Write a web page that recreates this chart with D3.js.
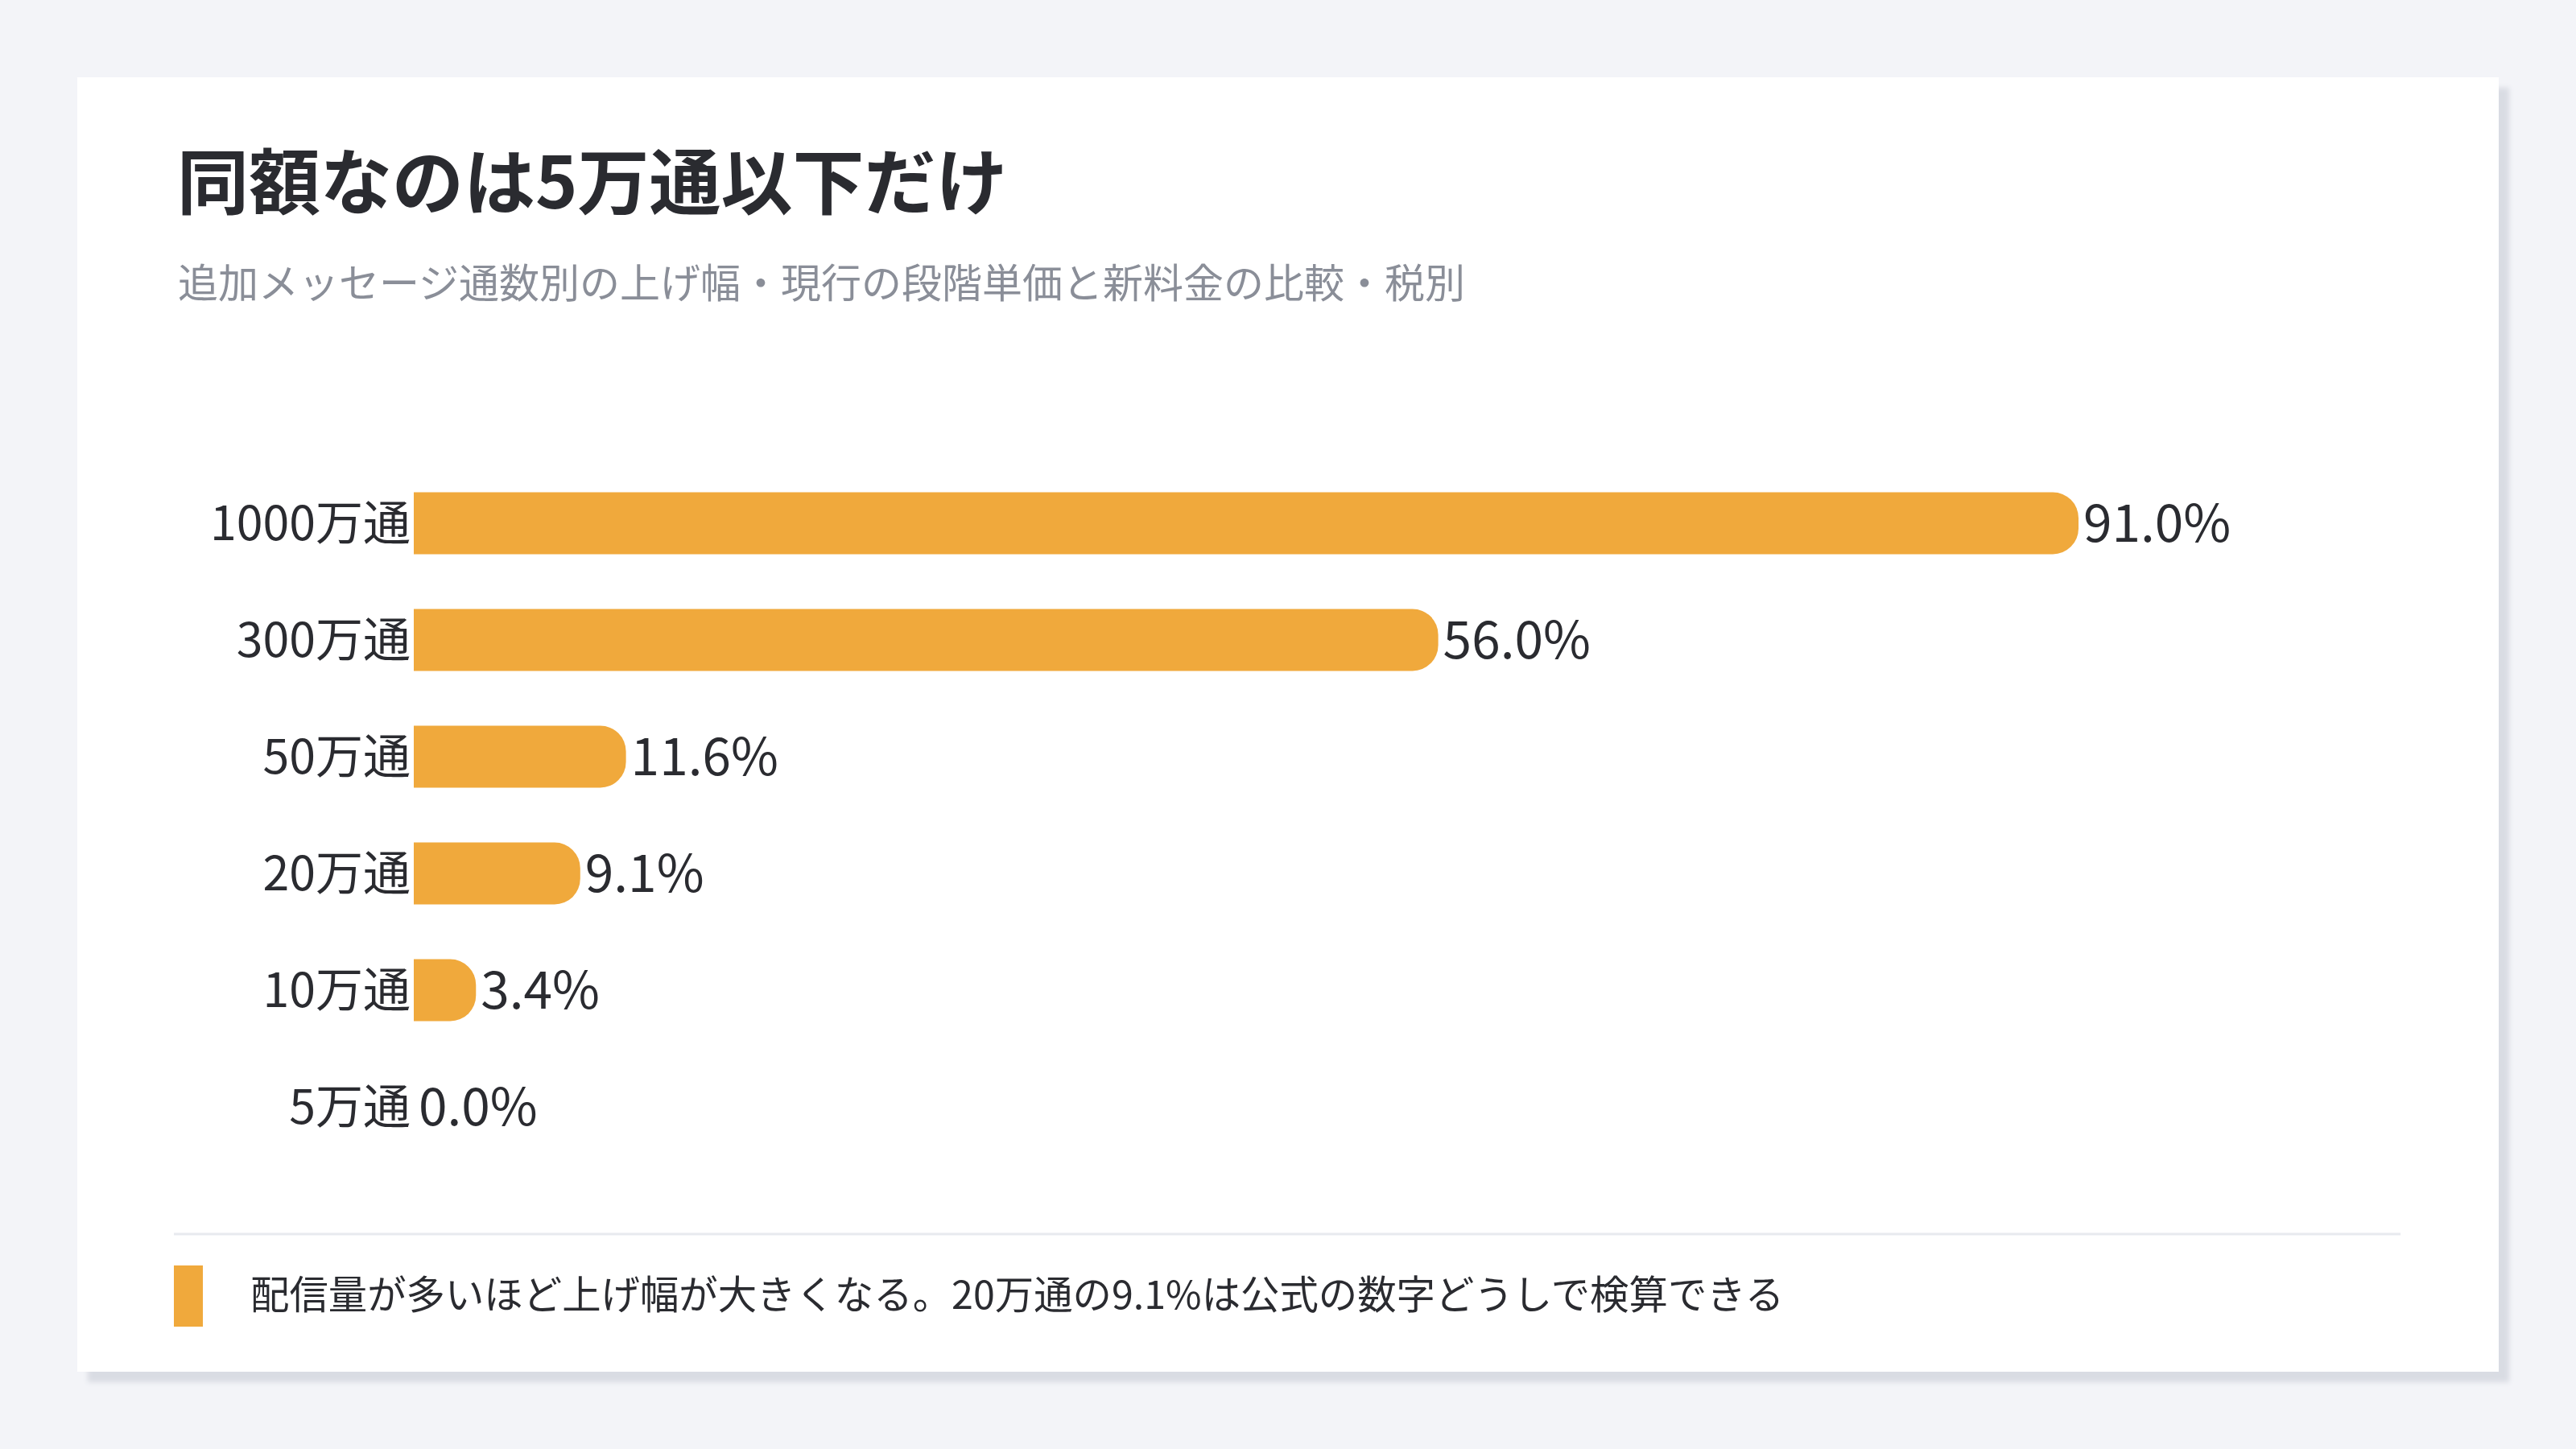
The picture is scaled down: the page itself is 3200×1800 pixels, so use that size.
<!DOCTYPE html>
<html>
<head>
<meta charset="utf-8">
<script src="https://cdn.jsdelivr.net/npm/d3@7"></script>
<style>
  html, body { margin: 0; padding: 0; background: #f3f4f8; }
  svg { display: block; }
  text { font-family: "Noto Sans CJK JP", "Noto Sans", sans-serif; }
</style>
</head>
<body>
<svg id="canvas"></svg>
<script>
//--data
let categories = ['1000万通', '300万通', '50万通', '20万通', '10万通', '5万通'];
let increases = [91.0, 56.0, 11.6, 9.1, 3.4, 0.0];
let title = '同額なのは5万通以下だけ';
let subtitle = '追加メッセージ通数別の上げ幅・現行の段階単価と新料金の比較・税別';
let note = '配信量が多いほど上げ幅が大きくなる。20万通の9.1%は公式の数字どうしで検算できる';
//--

let width = 3200;
let height = 1800;

let canvas = d3.select('#canvas')
canvas.attr('width', width)
canvas.attr('height', height)

// card + hard shadow
let defs = canvas.append('defs')
defs.append('filter')
    .attr('id', 'shadow')
    .attr('x', '-5%').attr('y', '-5%').attr('width', '110%').attr('height', '110%')
    .append('feDropShadow')
    .attr('dx', 13).attr('dy', 13)
    .attr('stdDeviation', 3)
    .attr('flood-color', '#d9dce3')
    .attr('flood-opacity', 1)

canvas.append('rect')
    .attr('x', 96).attr('y', 96)
    .attr('width', 3008).attr('height', 1608)
    .attr('fill', '#ffffff')
    .attr('filter', 'url(#shadow)')

canvas.append('text')
    .attr('x', 220).attr('y', 259)
    .attr('font-size', 89)
    .attr('font-weight', 700)
    .attr('fill', '#2a2b30')
    .text(title)

canvas.append('text')
    .attr('x', 221).attr('y', 370)
    .attr('font-size', 50)
    .attr('fill', '#8a8e98')
    .text(subtitle)

//--scales
let x = d3.scaleLinear()
          .domain([0, d3.max(increases)])
          .range([514, 2582])

let y = d3.scaleBand()
          .domain(categories)
          .range([611.5, 1413.5])
          .paddingInner(0.469)
          .paddingOuter(0)

let rows = categories.map((c, i) => ({ name: c, value: increases[i] }))

let barColor = '#f0a93c'

// square on the left, rounded on the right
let barPath = d => {
    let x0 = x(0)
    let x1 = x(d.value)
    let y0 = y(d.name)
    let h = y.bandwidth()
    let w = x1 - x0
    if (w <= 0) return ''
    let r = Math.min(32, w, h / 2)
    return 'M' + x0 + ',' + y0 +
           'H' + (x1 - r) +
           'A' + r + ',' + r + ' 0 0 1 ' + x1 + ',' + (y0 + r) +
           'V' + (y0 + h - r) +
           'A' + r + ',' + r + ' 0 0 1 ' + (x1 - r) + ',' + (y0 + h) +
           'H' + x0 + 'Z'
}

let row = canvas.selectAll('g.row')
    .data(rows)
    .enter()
    .append('g')
    .attr('class', 'row')

row.append('path')
    .attr('d', barPath)
    .attr('fill', barColor)

row.append('text')
    .attr('x', 510)
    .attr('y', d => y(d.name) + y.bandwidth() / 2)
    .attr('dy', '0.36em')
    .attr('text-anchor', 'end')
    .attr('font-size', 59)
    .attr('fill', '#2a2b30')
    .text(d => d.name)

row.append('text')
    .attr('x', d => x(d.value) + 6)
    .attr('y', d => y(d.name) + y.bandwidth() / 2)
    .attr('dy', '0.36em')
    .attr('font-size', 64)
    .attr('fill', '#2a2b30')
    .text(d => d.value.toFixed(1) + '%')

// footer
canvas.append('line')
    .attr('x1', 216).attr('x2', 2982)
    .attr('y1', 1533).attr('y2', 1533)
    .attr('stroke', '#e8eaef')
    .attr('stroke-width', 3)

canvas.append('rect')
    .attr('x', 216).attr('y', 1572)
    .attr('width', 36).attr('height', 76)
    .attr('fill', barColor)

canvas.append('text')
    .attr('x', 311).attr('y', 1626)
    .attr('font-size', 48.4)
    .attr('fill', '#2a2b30')
    .text(note)
</script>
</body>
</html>
